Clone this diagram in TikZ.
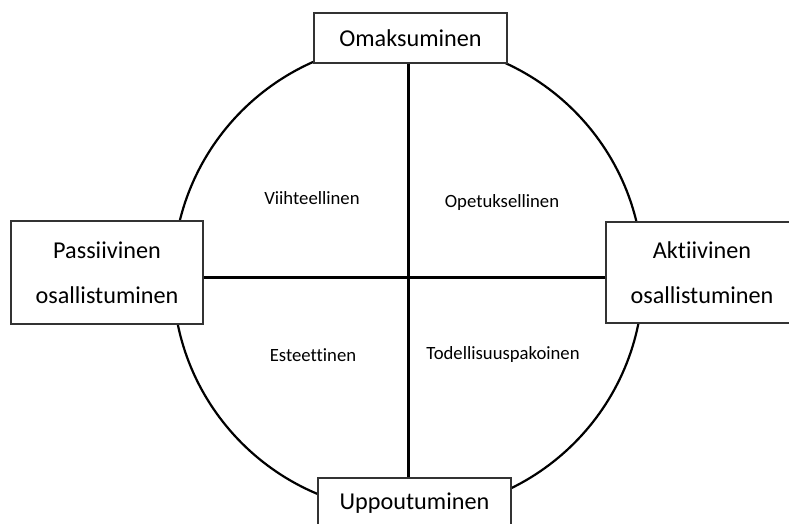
\documentclass[tikz,border=0pt]{standalone}
\usepackage{fontspec}
\setmainfont[Ligatures=NoCommon]{Carlito}
\begin{document}
\begin{tikzpicture}[x=1pt,y=-1pt,
  pole/.style={draw=black!80,line width=1.3pt,fill=white,inner sep=0pt,
    font=\fontsize{24.2}{45}\selectfont,align=center},
  quad/.style={font=\fontsize{18.7}{22}\selectfont},
  axis/.style={line width=3pt},
  ring/.style={line width=2.2pt}]
\useasboundingbox (0,0) rectangle (789,524);
\clip (0,0) rectangle (789,524);
% outer ring
\draw[ring] (408,277) circle[radius=235];
% pole boxes
\node[pole,minimum width=193pt,minimum height=50pt] (top) at (410.5,38) {Omaksuminen};
\node[pole,minimum width=193pt,minimum height=50pt] (bot) at (414.5,503) {Uppoutuminen};
\node[pole,minimum width=192pt,minimum height=103pt] (left) at (107,272.5) {Passiivinen\\osallistuminen};
\node[pole,minimum width=192pt,minimum height=101pt] (right) at (702,272.5) {Aktiivinen\\osallistuminen};
% axes
\coordinate (c) at (408,277);
\draw[axis] (top.south -| c) -- (bot.north -| c);
\draw[axis] (left.east |- c) -- (right.west |- c);
% quadrant labels
\node[quad] (q1) at (312,198) {Viihteellinen};
\node[quad] (q2) at (502,203) {Opetuksellinen};
\node[quad] (q3) at (313,355) {Esteettinen};
\node[quad] (q4) at (503,355) {Todellisuuspakoinen};
\end{tikzpicture}
\end{document}
